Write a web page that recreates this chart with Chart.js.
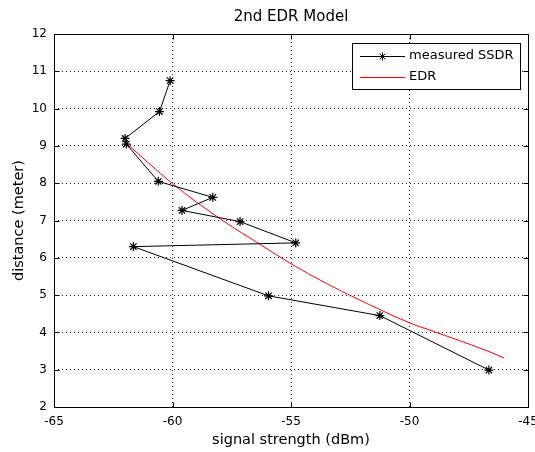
<!DOCTYPE html>
<html>
<head>
<meta charset="utf-8">
<script src="https://cdn.jsdelivr.net/npm/chart.js@4/dist/chart.umd.min.js"></script>
<style>
  html, body { margin: 0; padding: 0; background: #fff; }
  #wrap { width: 535px; height: 452px; }
</style>
</head>
<body>
<div id="wrap"><canvas id="edrChart"></canvas></div>
<script>
// measured SSDR (signal strength in dBm, distance in meter), in measuring order
const ssdrRss = [-60.1, -60.55, -62.0, -61.95, -60.6, -58.3, -59.6, -57.15, -54.8, -61.65, -55.95, -51.25, -46.65];
const ssdrDist = [10.75, 9.92, 9.2, 9.05, 8.05, 7.62, 7.27, 6.97, 6.4, 6.3, 4.98, 4.45, 2.99];

// EDR curve
const edrRss = [-62.0, -60.0, -58.0, -56.3, -55.0, -53.35, -51.24, -49.98, -49.13, -48.2, -46.7, -46.0];
const edrDist = [9.1, 7.99, 7.05, 6.36, 5.84, 5.26, 4.61, 4.25, 4.06, 3.85, 3.5, 3.31];

const xTicks = [-65, -60, -55, -50, -45];
const yTicks = [2, 3, 4, 5, 6, 7, 8, 9, 10, 11, 12];

const chartTitle = "2nd EDR Model";
const xLabel = "signal strength (dBm)";
const yLabel = "distance (meter)";
const seriesNames = ["measured SSDR", "EDR"];

const FONT = "'DejaVu Sans', sans-serif";

function toPoints(xs, ys) {
    return xs.map((x, i) => ({ x: x, y: ys[i] }));
}

// frame, inward ticks, title and legend like the matlab figure
const matlabFrame = {
    id: "matlabFrame",
    afterDraw(chart) {
        const ctx = chart.ctx;
        const a = chart.chartArea;
        const sx = chart.scales.x;
        const sy = chart.scales.y;
        const L = Math.round(a.left) + 0.5, R = Math.round(a.right) + 0.5;
        const T = Math.round(a.top) + 0.5, B = Math.round(a.bottom) + 0.5;
        ctx.save();
        ctx.strokeStyle = "#000";
        ctx.lineWidth = 1;
        ctx.setLineDash([]);
        ctx.strokeRect(L, T, R - L, B - T);

        ctx.beginPath();
        xTicks.forEach(v => {
            const px = Math.round(sx.getPixelForValue(v)) + 0.5;
            ctx.moveTo(px, B); ctx.lineTo(px, B - 5);
            ctx.moveTo(px, T); ctx.lineTo(px, T + 5);
        });
        yTicks.forEach(v => {
            const py = Math.round(sy.getPixelForValue(v)) + 0.5;
            ctx.moveTo(L, py); ctx.lineTo(L + 5, py);
            ctx.moveTo(R, py); ctx.lineTo(R - 5, py);
        });
        ctx.stroke();

        // title
        ctx.fillStyle = "#000";
        ctx.font = "15px " + FONT;
        ctx.textAlign = "center";
        ctx.textBaseline = "middle";
        ctx.fillText(chartTitle, (a.left + a.right) / 2, 17);

        // legend box
        ctx.fillStyle = "#fff";
        ctx.fillRect(352.5, 43.5, 168, 46);
        ctx.strokeStyle = "#000";
        ctx.strokeRect(352.5, 43.5, 168, 46);

        ctx.lineWidth = 1;
        ctx.strokeStyle = "#000";
        ctx.beginPath();
        ctx.moveTo(360, 56.5); ctx.lineTo(405, 56.5);
        ctx.stroke();
        // star marker in the legend sample
        ctx.beginPath();
        const cx = 382.5, cy = 56.5, r = 4;
        for (let k = 0; k < 4; k++) {
            const ang = k * Math.PI / 4;
            ctx.moveTo(cx + Math.cos(ang) * r, cy + Math.sin(ang) * r);
            ctx.lineTo(cx - Math.cos(ang) * r, cy - Math.sin(ang) * r);
        }
        ctx.stroke();

        ctx.strokeStyle = "#ff0000";
        ctx.beginPath();
        ctx.moveTo(360, 77.5); ctx.lineTo(405, 77.5);
        ctx.stroke();

        ctx.fillStyle = "#000";
        ctx.font = "13px " + FONT;
        ctx.textAlign = "left";
        ctx.textBaseline = "middle";
        ctx.fillText(seriesNames[0], 409, 56);
        ctx.fillText(seriesNames[1], 409, 77);
        ctx.restore();
    }
};

const ctx = document.getElementById("edrChart").getContext("2d");
new Chart(ctx, {
    type: "scatter",
    data: {
        datasets: [
            {
                label: seriesNames[0],
                data: toPoints(ssdrRss, ssdrDist),
                showLine: true,
                borderColor: "#000",
                backgroundColor: "#000",
                borderWidth: 1,
                pointStyle: "star",
                pointRadius: 4.5,
                pointBorderWidth: 1.2,
                pointHoverRadius: 4.5
            },
            {
                label: seriesNames[1],
                data: toPoints(edrRss, edrDist),
                showLine: true,
                borderColor: "#ff0000",
                backgroundColor: "#ff0000",
                borderWidth: 1,
                pointRadius: 0,
                pointHoverRadius: 0,
                cubicInterpolationMode: "monotone"
            }
        ]
    },
    options: {
        responsive: true,
        maintainAspectRatio: false,
        animation: false,
        layout: { padding: { top: 34, right: 7, left: 0, bottom: 0 } },
        plugins: {
            legend: { display: false },
            title: { display: false },
            tooltip: { enabled: false }
        },
        scales: {
            x: {
                type: "linear",
                min: -65,
                max: -45,
                afterFit: scale => {
                    scale.height = 45;
                    scale.paddingLeft = 0;
                    scale.paddingRight = 0;
                },
                afterBuildTicks: scale => { scale.ticks = xTicks.map(v => ({ value: v })); },
                ticks: {
                    color: "#000",
                    padding: 8,
                    font: { family: FONT, size: 12 }
                },
                grid: { color: "#222", drawTicks: false, lineWidth: 1 },
                border: { display: false, dash: [1, 3] },
                title: {
                    display: true,
                    text: xLabel,
                    color: "#000",
                    font: { family: FONT, size: 14.5 },
                    padding: { top: 0, bottom: 3 }
                }
            },
            y: {
                type: "linear",
                min: 2,
                max: 12,
                afterFit: scale => {
                    scale.width = 54;
                    scale.paddingTop = 0;
                    scale.paddingBottom = 0;
                },
                afterBuildTicks: scale => { scale.ticks = yTicks.map(v => ({ value: v })); },
                ticks: {
                    color: "#000",
                    padding: 7,
                    font: { family: FONT, size: 12 }
                },
                grid: { color: "#222", drawTicks: false, lineWidth: 1 },
                border: { display: false, dash: [1, 3] },
                title: {
                    display: true,
                    text: yLabel,
                    color: "#000",
                    font: { family: FONT, size: 14.5 },
                    padding: { top: 11, bottom: 0 }
                }
            }
        }
    },
    plugins: [matlabFrame]
});
</script>
</body>
</html>
